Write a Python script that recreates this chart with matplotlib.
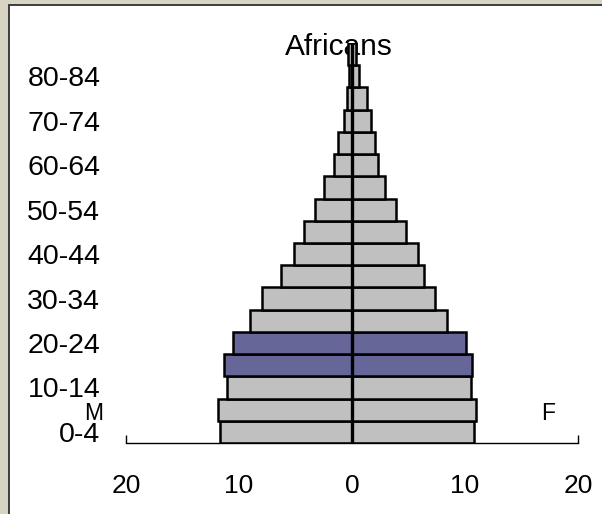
import matplotlib
matplotlib.use("Agg")
import matplotlib.pyplot as plt
from matplotlib.patches import Rectangle

ages = ["0-4", "5-9", "10-14", "15-19", "20-24", "25-29", "30-34", "35-39",
        "40-44", "45-49", "50-54", "55-59", "60-64", "65-69", "70-74",
        "75-79", "80-84", "85+"]
male = [11.65, 11.85, 11.05, 11.35, 10.5, 9.0, 8.0, 6.25, 5.15, 4.25,
        3.3, 2.5, 1.6, 1.25, 0.7, 0.45, 0.3, 0.35]
female = [10.8, 11.0, 10.55, 10.6, 10.1, 8.4, 7.35, 6.35, 5.8, 4.8,
          3.9, 2.95, 2.3, 2.05, 1.65, 1.3, 0.65, 0.35]
highlight = ["15-19", "20-24"]
shown_labels = ["0-4", "10-14", "20-24", "30-34", "40-44", "50-54",
                "60-64", "70-74", "80-84"]
xticks = [-20, -10, 0, 10, 20]
xticklabels = ["20", "10", "0", "10", "20"]
title = "Africans"

W, H = 602, 514
fig = plt.figure(figsize=(W / 100, H / 100), dpi=100)
fig.patch.set_facecolor("#d8d4c4")
fig.patches.append(Rectangle((9 / W, -0.05), 1.1, 1.05 - 5 / H,
                             transform=fig.transFigure, facecolor="white",
                             edgecolor="#303030", linewidth=1.3, zorder=-5))

font = ["Liberation Sans", "DejaVu Sans"]
ax = fig.add_axes([126 / W, (H - 443) / H, 452 / W, 400 / H])
ax.set_facecolor("none")

gray = "#c0c0c0"
blue = "#666699"
colors = [blue if a in highlight else gray for a in ages]
y = list(range(len(ages)))
ax.barh(y, [-m for m in male], height=1.0, color=colors, edgecolor="black",
        linewidth=1.8, zorder=2)
ax.barh(y, female, height=1.0, color=colors, edgecolor="black",
        linewidth=1.8, zorder=2)
ax.axvline(0, color="black", linewidth=2.4, zorder=3)

ax.set_xlim(-20, 20)
ax.set_ylim(-0.5, len(ages) - 0.5)
for s in ["top", "right", "left"]:
    ax.spines[s].set_visible(False)
ax.spines["bottom"].set_linewidth(1.0)
ax.set_xticks(xticks)
ax.set_xticklabels(xticklabels, fontsize=19, family=font)
ax.tick_params(axis="x", direction="in", length=6, width=1, pad=22)
ax.set_yticks([ages.index(a) for a in shown_labels])
ax.set_yticklabels(shown_labels, fontsize=20.5, family=font)
ax.tick_params(axis="y", length=0, pad=18.5)

fig.text(339 / W, 1 - 47 / H, title, ha="center", va="center",
         fontsize=21.5, family=font, zorder=-1)
fig.text(94 / W, 1 - 414 / H, "M", ha="center", va="center",
         fontsize=16.5, family=font)
fig.text(548 / W, 1 - 414 / H, "F", ha="center", va="center",
         fontsize=16.5, family=font)

fig.savefig("out.png", dpi=100, facecolor=fig.get_facecolor())
